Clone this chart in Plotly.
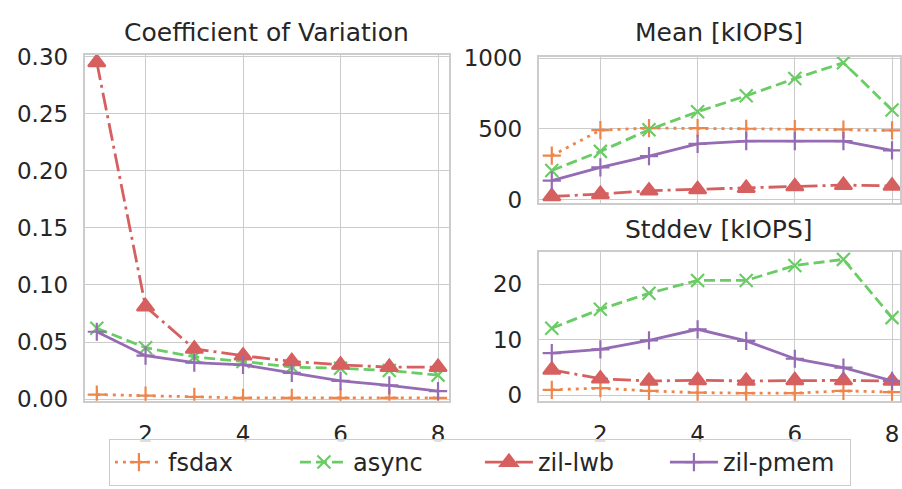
import plotly.graph_objects as go

threads = [1, 2, 3, 4, 5, 6, 7, 8]
series = ["fsdax", "async", "zil-lwb", "zil-pmem"]

cv_fsdax = [0.004, 0.003, 0.002, 0.001, 0.001, 0.001, 0.001, 0.001]
cv_async = [0.062, 0.045, 0.037, 0.033, 0.028, 0.027, 0.025, 0.021]
cv_lwb = [0.295, 0.081, 0.044, 0.038, 0.033, 0.030, 0.028, 0.028]
cv_pmem = [0.059, 0.038, 0.032, 0.030, 0.023, 0.016, 0.012, 0.007]

mean_fsdax = [310, 490, 505, 505, 500, 497, 495, 488]
mean_async = [205, 340, 493, 620, 733, 855, 967, 633]
mean_lwb = [22, 38, 62, 72, 80, 92, 102, 96]
mean_pmem = [133, 227, 307, 393, 413, 413, 413, 347]

std_fsdax = [1.0, 1.3, 0.8, 0.5, 0.4, 0.4, 0.8, 0.6]
std_async = [12.1, 15.5, 18.4, 20.7, 20.7, 23.4, 24.5, 14.0]
std_lwb = [4.6, 3.0, 2.6, 2.7, 2.6, 2.7, 2.7, 2.6]
std_pmem = [7.6, 8.3, 9.9, 11.9, 9.8, 6.6, 5.0, 2.6]

cv_ticks = [0, 0.05, 0.10, 0.15, 0.20, 0.25, 0.30]
mean_ticks = [0, 500, 1000]
std_ticks = [0, 10, 20]
x_ticks = [2, 4, 6, 8]

titles = ["Coefficient of Variation", "Mean [kIOPS]", "Stddev [kIOPS]"]

colors = {"fsdax": "#ee854a", "async": "#6acc64", "zil-lwb": "#d65f5f", "zil-pmem": "#956cb4"}
dashes = {"fsdax": "3px,5px", "async": "11px,5px", "zil-lwb": "18px,5px,3px,5px", "zil-pmem": "solid"}
symbols = {"fsdax": "cross-thin", "async": "x-thin", "zil-lwb": "triangle-up", "zil-pmem": "cross-thin"}
sizes = {"fsdax": 13, "async": 13, "zil-lwb": 15, "zil-pmem": 13}

data = {
    "x": {"fsdax": cv_fsdax, "async": cv_async, "zil-lwb": cv_lwb, "zil-pmem": cv_pmem},
    "x2": {"fsdax": mean_fsdax, "async": mean_async, "zil-lwb": mean_lwb, "zil-pmem": mean_pmem},
    "x3": {"fsdax": std_fsdax, "async": std_async, "zil-lwb": std_lwb, "zil-pmem": std_pmem},
}

W, H = 902, 489
fig = go.Figure()
axes = [("x", "y"), ("x2", "y2"), ("x3", "y3")]
for i, (xa, ya) in enumerate(axes):
    for s in series:
        fig.add_trace(go.Scatter(
            x=threads, y=data[xa][s], name=s, xaxis=xa, yaxis=ya,
            mode="lines+markers", showlegend=(i == 0),
            line=dict(color=colors[s], width=2.8, dash=dashes[s]),
            marker=dict(symbol=symbols[s], size=sizes[s], color=colors[s],
                        line=dict(color=colors[s], width=2.2)),
        ))

def px_x(a, b):
    return [a / W, min(b / W, 1.0)]

def px_y(top, bottom):
    return [1 - bottom / H, 1 - top / H]

grid = "#cccccc"
tfont = dict(family="DejaVu Sans", size=23, color="#262626")
common_x = dict(tickvals=x_ticks, showgrid=True, gridcolor=grid, gridwidth=1.4,
                showline=True, linecolor=grid, linewidth=2, mirror=True, zeroline=False,
                tickfont=tfont, ticks="", ticklabelstandoff=12)
common_y = dict(showgrid=True, gridcolor=grid, gridwidth=1.4, showline=True, linecolor=grid,
                linewidth=2, mirror=True, zeroline=False, tickfont=tfont, ticks="",
                ticklabelstandoff=10)

fig.update_layout(
    width=W, height=H, margin=dict(l=0, r=0, t=0, b=0),
    paper_bgcolor="white", plot_bgcolor="white",
    font=dict(family="DejaVu Sans", color="#262626"),
    xaxis=dict(domain=px_x(85, 450), range=[0.754, 8.225], anchor="y", **common_x),
    yaxis=dict(domain=px_y(45, 408), range=[-0.0015, 0.3015], tickvals=cv_ticks,
               tickformat=".2f", anchor="x", **common_y),
    xaxis2=dict(domain=px_x(540, 903), range=[0.733, 8.164], anchor="y2",
                showticklabels=False, **common_x),
    yaxis2=dict(domain=px_y(47, 200), range=[-22, 1009], tickvals=mean_ticks, anchor="x2", **common_y),
    xaxis3=dict(domain=px_x(540, 903), range=[0.733, 8.164], anchor="y3", **common_x),
    yaxis3=dict(domain=px_y(252, 408), range=[-0.98, 25.8], tickvals=std_ticks, anchor="x3", **common_y),
    legend=dict(orientation="h", x=481 / W, xanchor="center", y=1 - 448 / H, yanchor="top",
                bordercolor="#cccccc", borderwidth=1, bgcolor="rgba(255,255,255,0.85)",
                font=dict(family="DejaVu Sans", size=24, color="#262626"),
                itemwidth=48, entrywidth=122, entrywidthmode="pixels"),
)

title_pos = [((85 + 450) / 2, 21), ((540 + 902) / 2, 22), ((540 + 902) / 2, 228)]
for t, (cx, cy) in zip(titles, title_pos):
    fig.add_annotation(text=t, x=cx / W, y=1 - cy / H, xref="paper", yref="paper",
                       xanchor="center", yanchor="middle", showarrow=False,
                       font=dict(family="DejaVu Sans", size=25, color="#262626"))

fig.write_html("out.html")
